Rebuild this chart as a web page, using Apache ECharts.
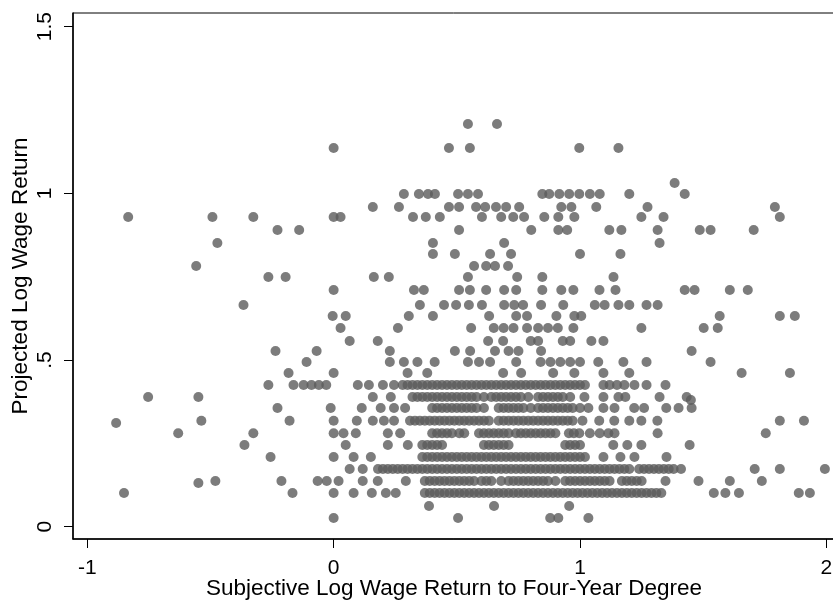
<!DOCTYPE html>
<html>
<head>
<meta charset="utf-8">
<script src="https://cdn.jsdelivr.net/npm/echarts@6/dist/echarts.min.js"></script>
<style>
  html, body { margin: 0; padding: 0; background: #fff; }
  #chart { width: 833px; height: 602px; }
</style>
</head>
<body>
<div id="chart"></div>
<script>
// tick labels
const xTicks = [-1, 0, 1, 2]
const yTicks = [0, 0.5, 1, 1.5]

// points grouped by the (discrete) projected return they sit on
const topRows = [
  { y: 1.208, x: [0.545, 0.663] },
  { y: 1.136, x: [0.0, 0.468, 0.553, 0.997, 1.156] },
  { y: 1.031, x: [1.384] },
  { y: 0.998, x: [0.285, 0.346, 0.383, 0.411, 0.505, 0.545, 0.586, 0.847, 0.875, 0.916, 0.956, 0.997, 1.04, 1.08, 1.2, 1.425] },
  { y: 0.959, x: [0.159, 0.265, 0.468, 0.509, 0.578, 0.615, 0.659, 0.70, 0.753, 0.924, 0.965, 1.066, 1.274, 1.791] },
  { y: 0.929, x: [-0.834, -0.492, -0.326, 0.0, 0.028, 0.322, 0.374, 0.431, 0.602, 0.68, 0.729, 0.773, 0.855, 0.912, 0.977, 1.249, 1.339, 1.811] },
  { y: 0.89, x: [-0.228, -0.14, 0.509, 0.802, 0.912, 0.948, 1.119, 1.168, 1.315, 1.486, 1.53, 1.705] },
  { y: 0.851, x: [-0.472, 0.403, 0.692, 1.323] },
  { y: 0.818, x: [0.403, 0.492, 0.635, 0.72, 1.0, 1.164] },
  { y: 0.782, x: [-0.558, 0.57, 0.619, 0.655, 0.708] },
  { y: 0.749, x: [-0.265, -0.195, 0.163, 0.224, 0.545, 0.745, 0.847, 1.136] },
  { y: 0.71, x: [0.0, 0.326, 0.366, 0.509, 0.553, 0.619, 0.692, 0.741, 0.847, 0.924, 0.973, 1.079, 1.144, 1.425, 1.465, 1.608, 1.681] }
]

const midRows = [
  { y: 0.665, x: [-0.366, 0.35, 0.448, 0.497, 0.549, 0.602, 0.692, 0.733, 0.769, 0.842, 0.932, 1.06, 1.1, 1.156, 1.2, 1.27, 1.315] },
  { y: 0.632, x: [-0.004, 0.049, 0.305, 0.403, 0.631, 0.741, 0.785, 0.904, 0.977, 1.005, 1.567, 1.811, 1.872] },
  { y: 0.596, x: [0.028, 0.261, 0.558, 0.65, 0.69, 0.73, 0.785, 0.83, 0.87, 0.91, 0.973, 1.249, 1.502, 1.559] },
  { y: 0.557, x: [0.065, 0.179, 0.627, 0.688, 0.80, 0.83, 0.93, 0.96, 1.046, 1.095] },
  { y: 0.527, x: [-0.236, -0.069, 0.228, 0.492, 0.554, 0.655, 0.71, 0.75, 0.842, 1.453] },
  { y: 0.494, x: [-0.11, 0.228, 0.285, 0.34, 0.41, 0.545, 0.59, 0.635, 0.741, 0.84, 0.88, 0.92, 0.96, 1.0, 1.074, 1.176, 1.27, 1.53] },
  { y: 0.461, x: [-0.183, 0.0, 0.30, 0.38, 0.688, 0.761, 0.891, 0.977, 1.095, 1.2, 1.656, 1.852] }
]

// the crowded band, where points overlap into solid stripes
const lowRows = [
  { y: 0.425, x: [-0.265, -0.163, -0.122, -0.09, -0.06, -0.03, 0.098, 0.143, 0.2, 0.245,
      0.28, 0.30, 0.32, 0.34, 0.36, 0.38, 0.40, 0.42, 0.44, 0.46, 0.48, 0.50, 0.52, 0.54, 0.56, 0.58, 0.60, 0.62, 0.64,
      0.66, 0.68, 0.70, 0.72, 0.74, 0.76, 0.78, 0.80, 0.82, 0.84, 0.86, 0.88, 0.90, 0.92, 0.94, 0.96, 0.98, 1.00, 1.02,
      1.095, 1.12, 1.15, 1.18, 1.221, 1.27, 1.347] },
  { y: 0.389, x: [-0.753, -0.549, 0.159, 0.232,
      0.32, 0.34, 0.36, 0.38, 0.40, 0.42, 0.44, 0.46, 0.48, 0.50, 0.52, 0.54, 0.56, 0.58, 0.61,
      0.64, 0.66, 0.68, 0.70, 0.72, 0.74, 0.76, 0.79, 0.83, 0.85, 0.87, 0.89, 0.91, 0.93, 0.96,
      1.018, 1.095, 1.156, 1.184, 1.323, 1.433] },
  { y: 0.356, x: [-0.228, -0.012, 0.114, 0.191, 0.245, 0.29,
      0.40, 0.42, 0.44, 0.46, 0.48, 0.50, 0.52, 0.54, 0.56, 0.58, 0.61,
      0.67, 0.69, 0.71, 0.73, 0.75, 0.77, 0.80, 0.83, 0.85, 0.87, 0.89, 0.91, 0.93, 0.95, 0.97, 1.0,
      1.034, 1.095, 1.14, 1.22, 1.26, 1.35, 1.40, 1.453] },
  { y: 0.318, x: [-0.537, -0.179, 0.0, 0.094, 0.159, 0.204, 0.245,
      0.31, 0.33, 0.35, 0.37, 0.39, 0.41, 0.43, 0.45, 0.47, 0.49, 0.51, 0.53, 0.55, 0.57, 0.59, 0.61, 0.63,
      0.67, 0.69, 0.71, 0.73, 0.75, 0.77, 0.79, 0.81, 0.83, 0.85, 0.87, 0.89, 0.91, 0.93, 0.95, 0.97,
      1.01, 1.078, 1.139, 1.2, 1.249, 1.314, 1.811, 1.909] },
  { y: 0.28, x: [-0.631, -0.326, 0.0, 0.04, 0.09, 0.22, 0.27,
      0.40, 0.42, 0.44, 0.46, 0.48, 0.51, 0.53, 0.59, 0.61, 0.63, 0.65, 0.67, 0.69, 0.71,
      0.74, 0.76, 0.78, 0.80, 0.82, 0.84, 0.86, 0.88, 0.90, 0.955, 0.975, 0.997,
      1.04, 1.08, 1.115, 1.14, 1.315, 1.754] },
  { y: 0.245, x: [-0.362, 0.049, 0.22, 0.301, 0.36, 0.38, 0.40, 0.42, 0.44,
      0.61, 0.63, 0.65, 0.67, 0.69, 0.71, 0.94, 0.96, 0.98, 1.0,
      1.135, 1.192, 1.249, 1.445] },
  { y: 0.209, x: [-0.256, 0.0, 0.081, 0.151,
      0.36, 0.38, 0.40, 0.42, 0.44, 0.46, 0.48, 0.50, 0.52, 0.54, 0.56, 0.58, 0.60, 0.62, 0.64, 0.66, 0.68,
      0.70, 0.72, 0.74, 0.76, 0.78, 0.80, 0.82, 0.84, 0.86, 0.88, 0.90, 0.92, 0.94, 0.96, 0.98, 1.00, 1.02,
      1.095, 1.164, 1.221, 1.351] },
  { y: 0.173, x: [0.065, 0.118,
      0.18, 0.20, 0.22, 0.24, 0.26, 0.28, 0.30, 0.32, 0.34, 0.36, 0.38, 0.40, 0.42, 0.44, 0.46, 0.48, 0.50,
      0.52, 0.54, 0.56, 0.58, 0.60, 0.62, 0.64, 0.66, 0.68, 0.70, 0.72, 0.74, 0.76, 0.78, 0.80, 0.82, 0.84,
      0.86, 0.88, 0.90, 0.92, 0.94, 0.96, 0.98, 1.00, 1.02, 1.04, 1.06, 1.08, 1.10, 1.12, 1.14, 1.16, 1.18,
      1.2, 1.24, 1.26, 1.28, 1.30, 1.32, 1.34, 1.36, 1.38, 1.41, 1.709, 1.811, 1.994] },
  { y: 0.137, x: [-0.48, -0.212, -0.065, -0.028, 0.02, 0.118, 0.179, 0.293,
      0.37, 0.39, 0.41, 0.43, 0.45, 0.47, 0.49, 0.51, 0.53, 0.55, 0.57, 0.60, 0.62, 0.64, 0.68,
      0.71, 0.73, 0.75, 0.77, 0.79, 0.81, 0.83, 0.85, 0.87, 0.90,
      0.94, 0.96, 0.98, 1.00, 1.02, 1.04, 1.06, 1.08, 1.10, 1.12,
      1.17, 1.19, 1.21, 1.23, 1.25, 1.347, 1.481, 1.608, 1.738] },
  { y: 0.101, x: [-0.851, -0.167, 0.0, 0.081, 0.155, 0.212, 0.252,
      0.37, 0.39, 0.41, 0.43, 0.45, 0.47, 0.49, 0.51, 0.53, 0.55, 0.57, 0.59, 0.61, 0.63, 0.65, 0.67,
      0.69, 0.71, 0.73, 0.75, 0.77, 0.79, 0.81, 0.83, 0.85, 0.87, 0.89, 0.91, 0.93, 0.95, 0.97, 0.99,
      1.01, 1.03, 1.05, 1.07, 1.09, 1.11, 1.13, 1.15, 1.17, 1.19, 1.21, 1.23, 1.25, 1.27, 1.29, 1.31, 1.33,
      1.543, 1.59, 1.645, 1.888, 1.933] },
  { y: 0.062, x: [0.387, 0.651, 0.956] },
  { y: 0.026, x: [0.0, 0.505, 0.879, 0.912, 1.034] }
]

// a few that sit a bit off the rows
const strays = [[-0.883, 0.311], [1.45, 0.38], [-0.549, 0.131]]

function toPairs(rows) {
  let out = []
  rows.forEach(r => r.x.forEach(x => out.push([x, r.y])))
  return out
}

const points = toPairs(topRows).concat(toPairs(midRows), toPairs(lowRows), strays)

const font = "'Liberation Sans', Arial, sans-serif"

let myChart = echarts.init(document.getElementById('chart'))
let option = {
  animation: false,
  backgroundColor: '#fff',
  grid: {
    left: 73, right: -2, top: 13, bottom: 63,
    show: true, borderColor: '#000', borderWidth: 1,
    containLabel: false, outerBoundsMode: 'none'
  },
  xAxis: {
    type: 'value',
    min: -1.058, max: 2.035,
    name: 'Subjective Log Wage Return to Four-Year Degree',
    nameLocation: 'middle',
    nameGap: 38,
    nameMoveOverlap: false,
    nameTextStyle: { fontFamily: font, fontSize: 22.5, color: '#000' },
    axisLine: { onZero: false, lineStyle: { color: '#000', width: 1.5 } },
    axisTick: { customValues: xTicks, length: 9, lineStyle: { color: '#000' } },
    axisLabel: {
      customValues: xTicks, margin: 19,
      fontFamily: font, fontSize: 21, color: '#000'
    },
    splitLine: { show: false }
  },
  yAxis: {
    type: 'value',
    min: -0.037, max: 1.541,
    name: 'Projected Log Wage Return',
    nameLocation: 'middle',
    nameGap: 41,
    nameMoveOverlap: false,
    nameTextStyle: { fontFamily: font, fontSize: 22.5, color: '#000' },
    axisLine: { onZero: false, lineStyle: { color: '#000', width: 1.5 } },
    axisTick: { customValues: yTicks, length: 9, lineStyle: { color: '#000' } },
    axisLabel: {
      customValues: yTicks, margin: 17, rotate: 90,
      fontFamily: font, fontSize: 21, color: '#000',
      formatter: v => v === 0.5 ? '.5' : String(v)
    },
    splitLine: { show: false }
  },
  series: [
    {
      type: 'scatter',
      data: points,
      symbol: 'circle',
      symbolSize: 10,
      itemStyle: { color: '#5b5b5b' }
    }
  ]
}
myChart.setOption(option)
</script>
</body>
</html>
